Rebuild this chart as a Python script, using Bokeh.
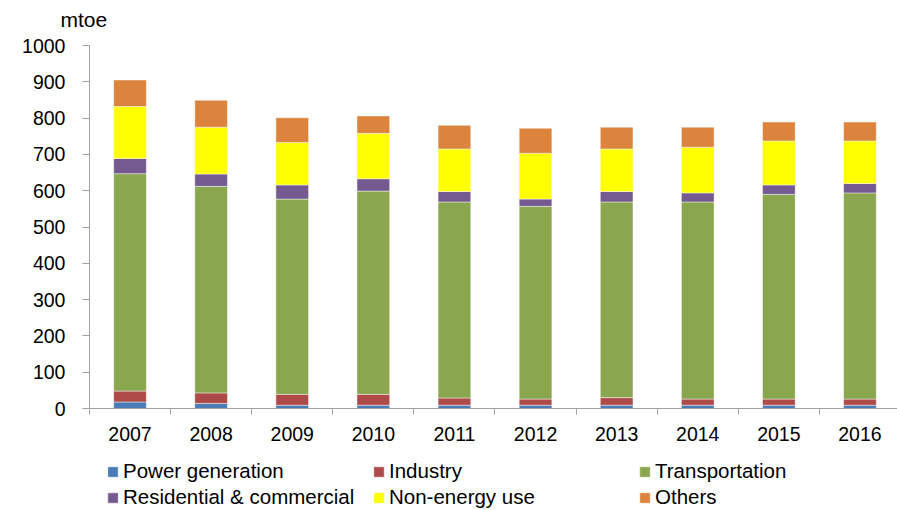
from bokeh.plotting import figure
from bokeh.models import (Range1d, FixedTicker, Legend, LegendItem, ColumnDataSource, Label)
from bokeh.embed import file_html
from bokeh.resources import INLINE

years = ["2007", "2008", "2009", "2010", "2011", "2012", "2013", "2014", "2015", "2016"]
power_generation = [18, 14, 9, 9, 9, 9, 9, 9, 9, 9]
industry = [30, 29, 30, 30, 20, 17, 21, 17, 17, 17]
transportation = [599, 569, 538, 560, 540, 531, 539, 543, 564, 568]
residential_commercial = [42, 34, 39, 34, 29, 20, 29, 25, 26, 26]
non_energy_use = [143, 129, 117, 125, 117, 126, 117, 126, 121, 117]
others = [73, 74, 68, 48, 65, 69, 60, 55, 52, 52]
y_ticks = [0, 100, 200, 300, 400, 500, 600, 700, 800, 900, 1000]

series_names = ["Power generation", "Industry", "Transportation",
                "Residential & commercial", "Non-energy use", "Others"]
keys = ["pg", "ind", "tr", "res", "ne", "oth"]
colors = ["#4A7DB8", "#AE4A47", "#8AA64E", "#745A8F", "#FFFF00", "#DC843E"]

x_idx = list(range(len(years)))
source = ColumnDataSource(dict(x=x_idx, pg=power_generation, ind=industry, tr=transportation,
                               res=residential_commercial, ne=non_energy_use, oth=others))

FONT = "Liberation Sans"

# frame covers the whole canvas; axes are pinned with fixed_location
p = figure(width=897, height=510, output_backend="svg", toolbar_location=None, title=None,
           x_range=Range1d(-1.597, 9.463), y_range=Range1d(-281.0, 1124.0),
           min_border_left=0, min_border_right=0, min_border_top=0, min_border_bottom=0)
p.outline_line_color = None
p.xgrid.grid_line_color = None
p.ygrid.grid_line_color = None
p.background_fill_color = "white"
p.border_fill_color = "white"

renderers = p.vbar_stack(keys, x="x", width=0.403, source=source, color=colors,
                         line_color="white", line_alpha=0.45, line_width=1)

# y axis
ya = p.yaxis[0]
ya.fixed_location = -0.5
ya.bounds = (0, 1000)
ya.ticker = FixedTicker(ticks=y_ticks)
ya.axis_line_color = "#A0A0A0"
ya.major_tick_line_color = "#A0A0A0"
ya.major_tick_out = 7
ya.major_tick_in = 0
ya.minor_tick_out = 0
ya.minor_tick_in = 0
ya.major_label_text_font = FONT
ya.major_label_text_font_size = "19.5px"
ya.major_label_text_color = "black"
ya.major_label_standoff = 17

# x axis
xa = p.xaxis[0]
xa.fixed_location = 0
xa.bounds = (-0.5, 9.463)
xa.ticker = FixedTicker(ticks=x_idx, minor_ticks=[i - 0.5 for i in range(len(years) + 1)])
xa.major_label_overrides = {i: y for i, y in enumerate(years)}
xa.axis_line_color = "#A0A0A0"
xa.major_tick_out = 0
xa.major_tick_in = 0
xa.minor_tick_line_color = "#A0A0A0"
xa.minor_tick_out = 6
xa.minor_tick_in = 0
xa.major_label_text_font = FONT
xa.major_label_text_font_size = "19.5px"
xa.major_label_text_color = "black"
xa.major_label_standoff = 12

# unit label
p.add_layout(Label(x=60, y=491, x_units="screen", y_units="screen", text="mtoe",
                   text_font=FONT, text_font_size="21px", text_color="black",
                   text_baseline="alphabetic"))

# legend: 3 columns x 2 rows, uniform column widths
items = [LegendItem(label=series_names[i], renderers=[renderers[i]]) for i in range(6)]
lg = Legend(items=items, ncols=3, location=(106, 1), orientation="horizontal",
            glyph_width=13, glyph_height=13, label_standoff=4, padding=0, margin=0,
            spacing=2, label_width=247, border_line_color=None,
            background_fill_alpha=0,
            label_text_font=FONT, label_text_font_size="20.5px", label_text_color="black")
p.add_layout(lg, "center")

open("out.html", "w").write(file_html(p, INLINE))
